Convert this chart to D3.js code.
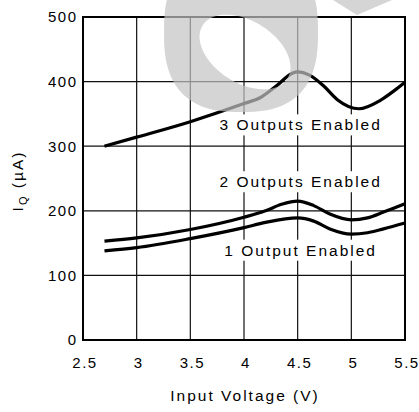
<!DOCTYPE html>
<html><head><meta charset="utf-8">
<script src="https://cdn.jsdelivr.net/npm/d3@7"></script>
<style>
html,body{margin:0;padding:0;background:#fff;}
text{font-family:"Liberation Sans",Arial,sans-serif;fill:#000;}
</style></head>
<body><svg id="c" width="419" height="412"></svg>
<script>
const xTicks = [2.5, 3, 3.5, 4, 4.5, 5, 5.5];
const yTicks = [0, 100, 200, 300, 400, 500];
const xTickLabels = ["2.5", "3", "3.5", "4", "4.5", "5", "5.5"];
const yTickLabels = ["0", "100", "200", "300", "400", "500"];

const v3 = [2.7, 3.0, 3.5, 4.0, 4.15, 4.3, 4.45, 4.5, 4.61, 4.75, 4.87, 5.07, 5.27, 5.4, 5.5];
const i3 = [300, 314, 338, 366, 375, 393, 413, 415, 410, 392, 372, 358, 371, 386, 399];
const v2 = [2.7, 3.0, 3.5, 4.0, 4.2, 4.35, 4.5, 4.65, 4.8, 5.0, 5.15, 5.3, 5.5];
const i2 = [153, 158, 171, 190, 200, 210, 215, 208, 195, 186, 189, 198, 211];
const v1 = [2.7, 3.0, 3.5, 4.0, 4.2, 4.5, 4.65, 4.8, 5.0, 5.15, 5.3, 5.5];
const i1 = [138, 143, 157, 174, 182, 189, 184, 172, 164, 166, 172, 181];

const labels = ["3 Outputs Enabled", "2 Outputs Enabled", "1 Output Enabled"];
const labelAnchorV = [4.5, 4.5, 4.5];
const labelAnchorI = [333, 245, 139];

const svg = d3.select("#c");
const x = d3.scaleLinear().domain([2.5, 5.5]).range([83, 405]);
const y = d3.scaleLinear().domain([0, 500]).range([340, 17]);

// grid
const g = svg.append("g");
g.selectAll(".vg").data(xTicks).enter().append("line")
  .attr("x1", d => x(d)).attr("x2", d => x(d)).attr("y1", y(0)).attr("y2", y(500))
  .attr("stroke", "#111").attr("stroke-width", 1.2);
g.selectAll(".hg").data(yTicks).enter().append("line")
  .attr("y1", d => y(d)).attr("y2", d => y(d)).attr("x1", x(2.5)).attr("x2", x(5.5))
  .attr("stroke", "#111").attr("stroke-width", 1.2);
g.append("rect").attr("x", x(2.5)).attr("y", y(500)).attr("width", x(5.5) - x(2.5)).attr("height", y(0) - y(500))
  .attr("fill", "none").attr("stroke", "#000").attr("stroke-width", 2);

// axes tick labels
const xAxis = d3.axisBottom(x).tickValues(xTicks).tickFormat((d, i) => xTickLabels[i]).tickSize(0).tickPadding(17);
const xa = svg.append("g").attr("transform", `translate(0,${y(0)})`).call(xAxis);
xa.select(".domain").remove();
xa.selectAll("text").attr("font-size", 15).attr("letter-spacing", 1.5).attr("dx", "0.1em")
  .style("font-family", '"Liberation Sans",Arial,sans-serif').attr("fill", "#000");
const yAxis = d3.axisLeft(y).tickValues(yTicks).tickFormat((d, i) => yTickLabels[i]).tickSize(0).tickPadding(5.5);
const ya = svg.append("g").attr("transform", `translate(${x(2.5)},0)`).call(yAxis);
ya.select(".domain").remove();
ya.selectAll("text").attr("font-size", 15).attr("letter-spacing", 1.5)
  .style("font-family", '"Liberation Sans",Arial,sans-serif').attr("fill", "#000");

// label boxes
const lg = svg.append("g");
labels.forEach((t, k) => {
  const tx = lg.append("text").attr("x", x(labelAnchorV[k]) + 3).attr("y", y(labelAnchorI[k]))
    .attr("text-anchor", "middle").attr("dominant-baseline", "central")
    .attr("font-size", 15.5).attr("letter-spacing", 2).text(t);
  const bb = tx.node().getBBox();
  lg.insert("rect", "text").attr("x", bb.x - 3).attr("y", bb.y - 2).attr("width", bb.width + 6).attr("height", bb.height + 4).attr("fill", "#fff");
});

// series
const line = d3.line().x(d => x(d[0])).y(d => y(d[1])).curve(d3.curveMonotoneX);
[[v3, i3], [v2, i2], [v1, i1]].forEach(([vs, is]) => {
  svg.append("path").datum(vs.map((v, j) => [v, is[j]]))
    .attr("d", line).attr("fill", "none").attr("stroke", "#000").attr("stroke-width", 3.2).attr("stroke-linecap", "butt");
});

// axis titles
svg.append("text").attr("x", 245).attr("y", 401).attr("text-anchor", "middle")
  .attr("font-size", 15.5).attr("letter-spacing", 2).text("Input Voltage (V)");
const yt = svg.append("text").attr("transform", "translate(23,181) rotate(-90)").attr("text-anchor", "middle")
  .attr("font-size", 15.5).attr("letter-spacing", 2);
yt.append("tspan").text("I");
yt.append("tspan").attr("font-size", 11).attr("dy", 4).text("Q");
yt.append("tspan").attr("dy", -4).text(" (µA)");

// watermark overlay (decorative)
const wm = svg.append("g").attr("opacity", 0.7);
const superEll = (cx, cy, a, b, n) => {
  const pts = d3.range(0, 360, 4).map(t => {
    const r = t * Math.PI / 180, c = Math.cos(r), s = Math.sin(r);
    return [cx + a * Math.sign(c) * Math.pow(Math.abs(c), 2 / n), cy + b * Math.sign(s) * Math.pow(Math.abs(s), 2 / n)];
  });
  return "M" + pts.map(p => p.join(",")).join("L") + "Z";
};
const ell = (cx, cy, rx, ry, a) => {
  const pts = d3.range(0, 360, 4).map(t => {
    const r = t * Math.PI / 180, ar = a * Math.PI / 180;
    const ex = rx * Math.cos(r), ey = ry * Math.sin(r);
    return [cx + ex * Math.cos(ar) - ey * Math.sin(ar), cy + ex * Math.sin(ar) + ey * Math.cos(ar)];
  });
  return "M" + pts.map(p => p.join(",")).join("L") + "Z";
};
wm.append("path").attr("d", superEll(241, 32, 77, 80, 2.6) + ell(245, 52, 50, 31, 32))
  .attr("fill", "#c4c4c4").attr("fill-rule", "evenodd");
wm.append("path").attr("d", "M333,0L392,0L357,15Z").attr("fill", "#c4c4c4");
</script></body></html>
